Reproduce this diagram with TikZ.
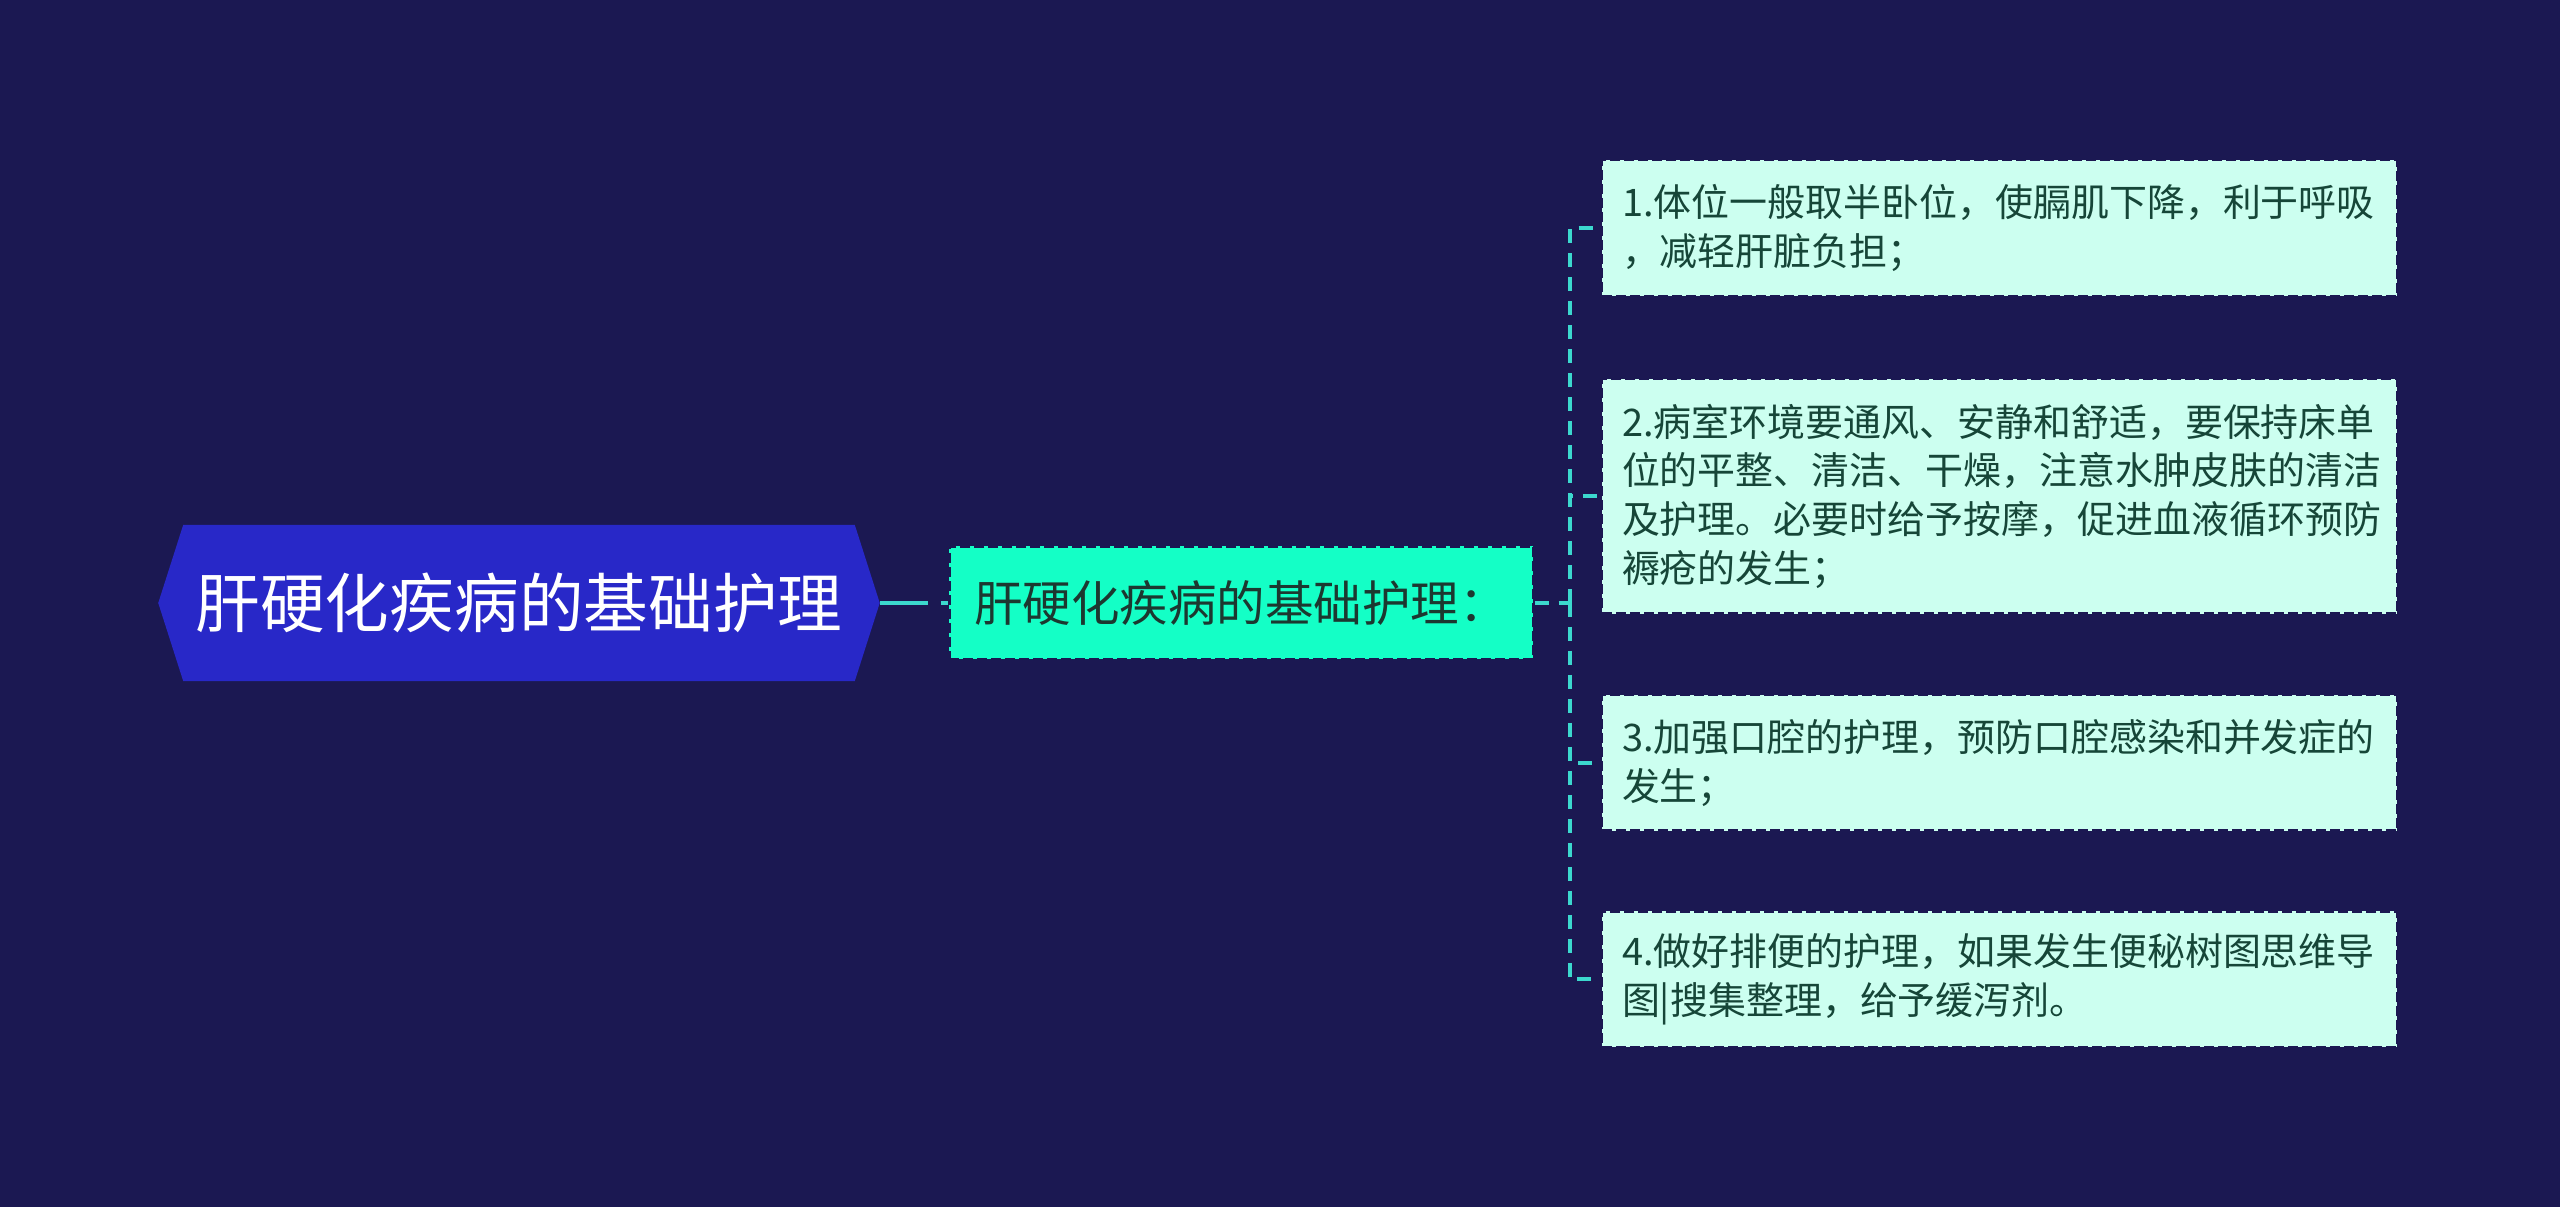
\documentclass[tikz,border=0pt]{standalone}
\usepackage{fontspec}
\setmainfont{Noto Sans CJK SC}
\usetikzlibrary{positioning,backgrounds}
\definecolor{bgnavy}{RGB}{27,24,82}
\definecolor{rootblue}{RGB}{40,40,200}
\definecolor{midaqua}{RGB}{20,255,198}
\definecolor{leafmint}{RGB}{204,255,240}
\definecolor{linecyan}{RGB}{60,216,206}
\definecolor{leaftext}{RGB}{22,70,56}
\definecolor{midtext}{RGB}{28,56,48}
\tikzstyle{rootbox} = [rectangle, minimum width=6.68cm, minimum height=1.55cm, text=white, font=\fontsize{18.4pt}{22pt}\selectfont]
\tikzstyle{topic} = [rectangle, minimum width=5.84cm, minimum height=1.13cm, draw=bgnavy, line width=0.8pt, dash pattern=on 0.1cm off 0.04cm, fill=midaqua, text=midtext, font=\fontsize{13.8pt}{16pt}\selectfont]
\tikzstyle{leaf} = [rectangle, text width=7.55cm, inner xsep=0.2cm, minimum height=1.36cm, align=left, draw=bgnavy, line width=0.8pt, dash pattern=on 0.1cm off 0.04cm, fill=leafmint, text=leaftext, font=\fontsize{10.8pt}{13.9pt}\selectfont]
\tikzstyle{link} = [draw=linecyan, line width=1.1pt, dash pattern=on 0.14cm off 0.1cm]

\begin{document}
\begin{tikzpicture}[node distance=0.8cm]
\useasboundingbox (0,0) rectangle (25.6,12.07);
\node (root) [rootbox] at (5.19,6.04) {肝硬化疾病的基础护理};
\node (mid) [topic, right=0.93cm of root] {肝硬化疾病的基础护理：};
\node (leaf1) [leaf] at (19.995,9.79) {1.体位一般取半卧位，使膈肌下降，利于呼吸\\，减轻肝脏负担；};
\node (leaf2) [leaf, minimum height=2.35cm, below=of leaf1] {2.病室环境要通风、安静和舒适，要保持床单\\位的平整、清洁、干燥，注意水肿皮肤的清洁\\及护理。必要时给予按摩，促进血液循环预防\\褥疮的发生；};
\node (leaf3) [leaf, below=0.78cm of leaf2] {3.加强口腔的护理，预防口腔感染和并发症的\\发生；};
\node (leaf4) [leaf, below=0.78cm of leaf3] {4.做好排便的护理，如果发生便秘树图思维导\\图|搜集整理，给予缓泻剂。};

\coordinate (roottip) at ([xshift=0.25cm]root.east);
\coordinate (fork) at ([xshift=0.35cm]mid.east);

\begin{scope}[on background layer]
\fill [bgnavy] (0,0) rectangle (25.6,12.07);
\fill [rootblue] (root.north west) -- (root.north east) -- (roottip) -- (root.south east) -- (root.south west) -- ([xshift=-0.25cm]root.west) -- cycle;
\end{scope}

\draw [link, dash pattern=on 0.48cm off 0.13cm] (roottip) -- (mid);
\draw [link] (mid) -- (fork);
\draw [link] (fork) |- (leaf1);
\draw [link] (fork) |- (leaf2);
\draw [link] (fork) |- (leaf3);
\draw [link] (fork) |- (leaf4);
\end{tikzpicture}
\end{document}
